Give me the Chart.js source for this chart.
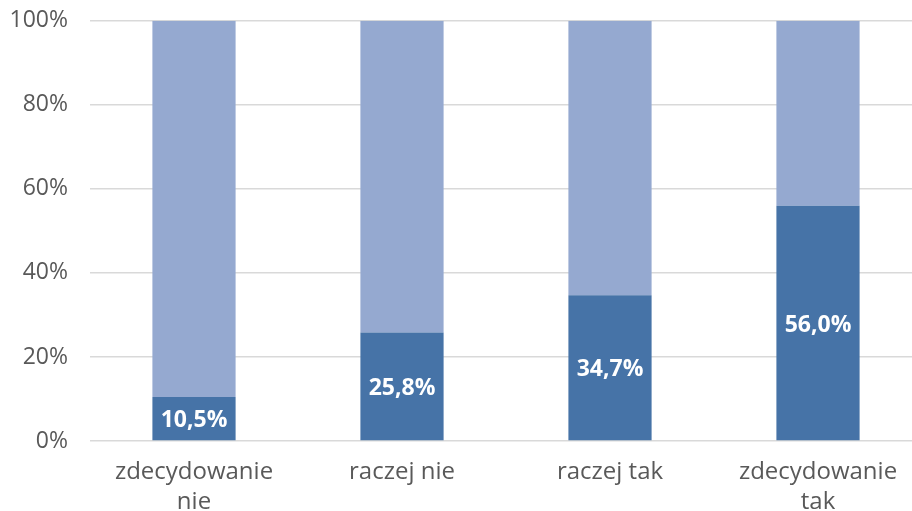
<!DOCTYPE html>
<html>
<head>
<meta charset="utf-8">
<script src="https://cdn.jsdelivr.net/npm/chart.js@4/dist/chart.umd.min.js"></script>
<style>
  html, body { margin: 0; padding: 0; background: #fff; overflow: hidden; }
  #wrap { width: 922px; height: 526px; position: absolute; top: -15px; left: 0; }
</style>
</head>
<body>
<div id="wrap"><canvas id="chart"></canvas></div>
<script>
const categories = [['zdecydowanie', 'nie'], 'raczej nie', 'raczej tak', ['zdecydowanie', 'tak']];
const yesValues = [10.5, 25.8, 34.7, 56.0];
const restValues = [89.5, 74.2, 65.3, 44.0];
const yTicks = [0, 20, 40, 60, 80, 100];

const FONT = '"Open Sans", sans-serif';
const TEXT = '#595959';

// white bold labels centred in the dark segment
const barLabels = {
    id: 'barLabels',
    afterDatasetsDraw(chart) {
        const ctx = chart.ctx;
        const meta = chart.getDatasetMeta(0);
        ctx.save();
        ctx.fillStyle = '#ffffff';
        ctx.font = 'bold 23px ' + FONT;
        ctx.textAlign = 'center';
        ctx.textBaseline = 'middle';
        meta.data.forEach((bar, i) => {
            const y = (bar.y + bar.base) / 2 + 2;
            ctx.fillText(yesValues[i].toFixed(1).replace('.', ',') + '%', bar.x, y);
        });
        ctx.restore();
    }
};

new Chart(document.getElementById('chart'), {
    type: 'bar',
    data: {
        labels: categories,
        datasets: [
            {
                label: 'tak',
                data: yesValues,
                backgroundColor: '#4673a7',
                barPercentage: 0.4,
                categoryPercentage: 1
            },
            {
                label: 'reszta',
                data: restValues,
                backgroundColor: '#95a9d0',
                barPercentage: 0.4,
                categoryPercentage: 1
            }
        ]
    },
    options: {
        responsive: true,
        maintainAspectRatio: false,
        animation: false,
        layout: { padding: 0 },
        plugins: {
            legend: { display: false },
            tooltip: { enabled: false }
        },
        scales: {
            x: {
                stacked: true,
                grid: { display: false },
                border: { display: false },
                ticks: {
                    color: TEXT,
                    font: { family: FONT, size: 24, lineHeight: 1.25 },
                    padding: 8,
                    maxRotation: 0
                },
                afterFit(scale) { scale.height = 70; }
            },
            y: {
                stacked: true,
                min: 0,
                max: 100,
                grid: { color: '#d9d9d9', lineWidth: 1.5, drawTicks: false },
                border: { display: false },
                afterBuildTicks(scale) { scale.ticks = yTicks.map(v => ({ value: v })); },
                ticks: {
                    color: TEXT,
                    font: { family: FONT, size: 23 },
                    padding: 22,
                    callback: v => v + '%'
                },
                afterFit(scale) { scale.width = 90; }
            }
        }
    },
    plugins: [barLabels]
});
</script>
</body>
</html>
